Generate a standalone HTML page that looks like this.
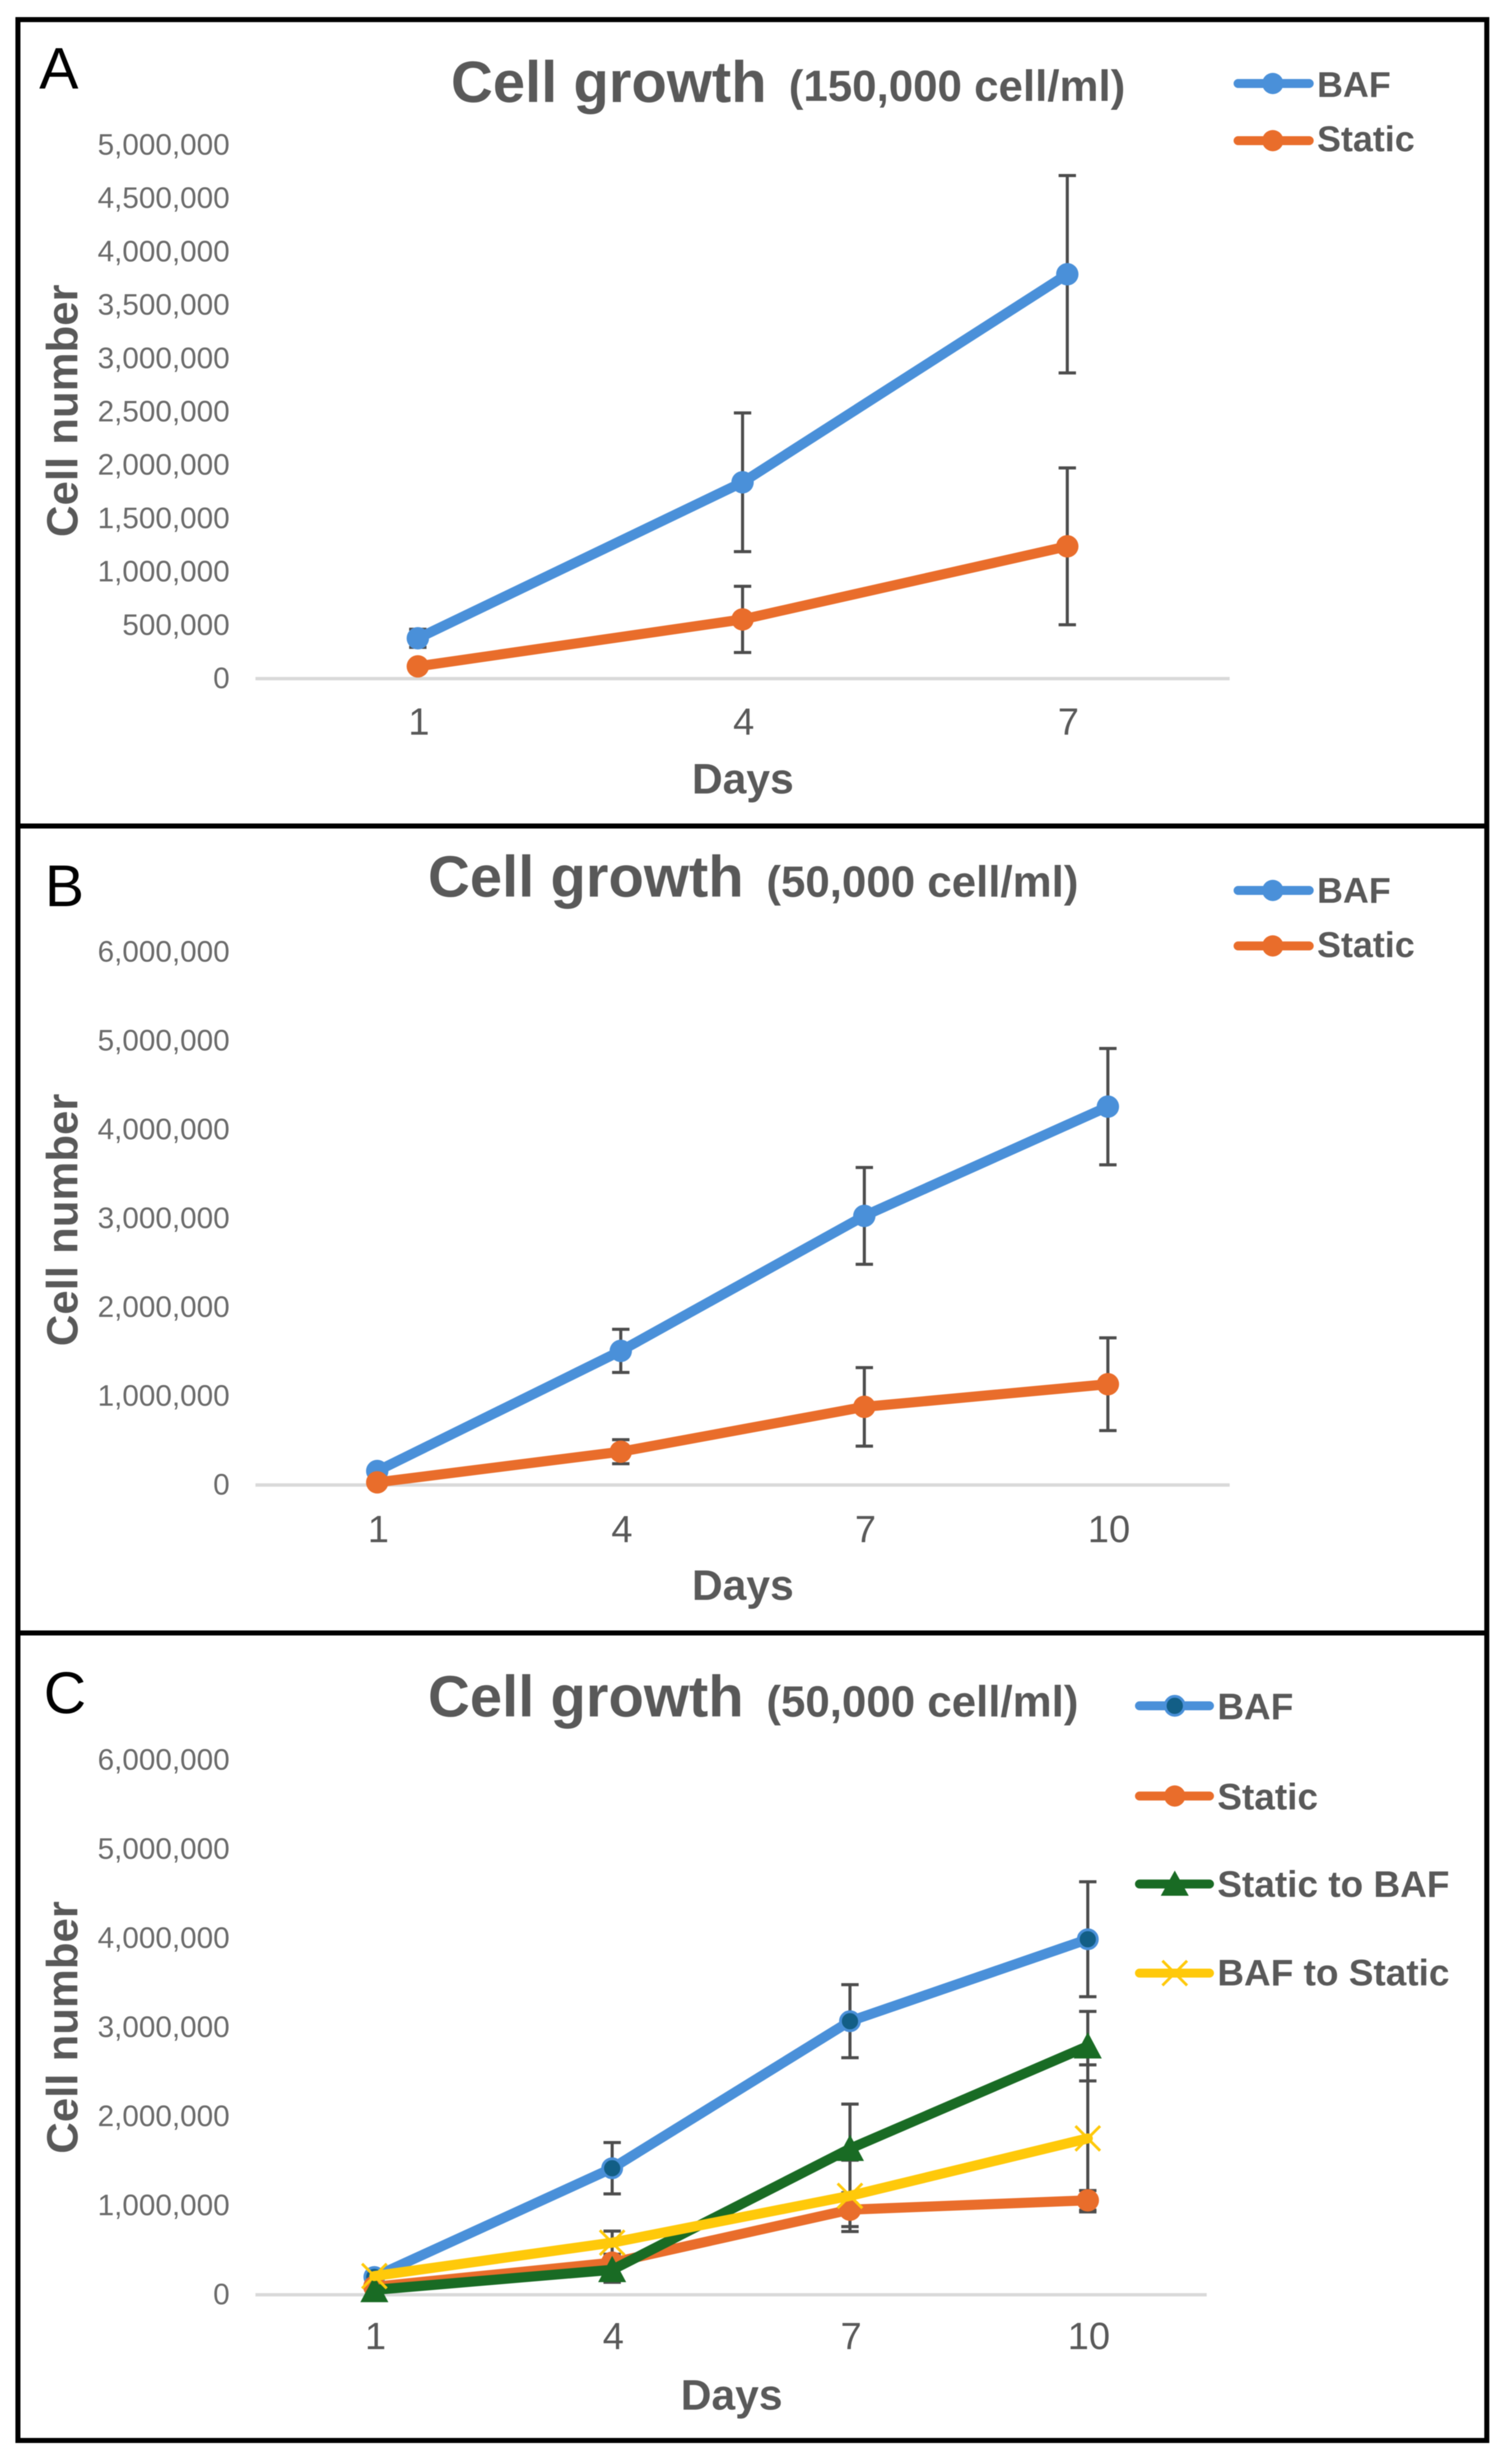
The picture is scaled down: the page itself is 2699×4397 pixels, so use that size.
<!DOCTYPE html>
<html lang="en">
<head>
<meta charset="utf-8">
<title>Cell growth charts</title>
<style>
html,body{margin:0;padding:0;background:#fff;width:2699px;height:4397px;overflow:hidden}
svg{display:block;filter:blur(0.8px)}
text{font-family:"Liberation Sans",sans-serif}
.title{font-size:103.5px;font-weight:bold;fill:#595959}
.sub{font-size:78.3px;font-weight:bold;fill:#595959}
.leg{font-size:64px;font-weight:bold;fill:#595959}
.axt{font-size:76px;font-weight:bold;fill:#595959}
.ayt{font-size:78px;font-weight:bold;fill:#595959}
.ytick{font-size:53px;fill:#6b6b6b}
.xtick{font-size:68px;fill:#595959}
.letter{font-size:105px;fill:#000}
</style>
</head>
<body>
<svg id="figure" xmlns="http://www.w3.org/2000/svg" width="2699" height="4397" viewBox="0 0 2699 4397">
  <rect x="0" y="0" width="2699" height="4397" fill="#fff"/>
  <rect x="32" y="35" width="2622" height="4320" fill="none" stroke="#000" stroke-width="9"/>
  <line x1="32" x2="2654" y1="1474" y2="1474" stroke="#000" stroke-width="9"/>
  <line x1="32" x2="2654" y1="2914" y2="2914" stroke="#000" stroke-width="9"/>

  <!-- Panel A -->
  <g>
    <text class="letter" x="70" y="158">A</text>
    <text class="title" x="805" y="182">Cell growth</text>
    <text class="sub" x="1408" y="180">(150,000 cell/ml)</text>
    <text class="ayt" text-anchor="middle" transform="translate(138 733) rotate(-90)">Cell number</text>
    <text class="axt" text-anchor="middle" x="1326" y="1416">Days</text>
    <g>
      <line x1="2210" x2="2337" y1="149" y2="149" stroke="#4a90d9" stroke-width="16" stroke-linecap="round"/>
      <circle cx="2272" cy="149" r="19" fill="#4a90d9"/>
      <text class="leg" x="2351" y="173">BAF</text>
      <line x1="2210" x2="2337" y1="251" y2="251" stroke="#e96d2b" stroke-width="16" stroke-linecap="round"/>
      <circle cx="2272" cy="251" r="19" fill="#e96d2b"/>
      <text class="leg" x="2351" y="270">Static</text>
    </g>
    <g id="plot-a"></g>
  </g>

  <!-- Panel B -->
  <g>
    <text class="letter" x="80" y="1617">B</text>
    <text class="title" x="764" y="1600">Cell growth</text>
    <text class="sub" x="1368" y="1600">(50,000 cell/ml)</text>
    <text class="ayt" text-anchor="middle" transform="translate(138 2177) rotate(-90)">Cell number</text>
    <text class="axt" text-anchor="middle" x="1326" y="2855">Days</text>
    <g>
      <line x1="2210" x2="2337" y1="1589" y2="1589" stroke="#4a90d9" stroke-width="16" stroke-linecap="round"/>
      <circle cx="2272" cy="1589" r="19" fill="#4a90d9"/>
      <text class="leg" x="2351" y="1611">BAF</text>
      <line x1="2210" x2="2337" y1="1688" y2="1688" stroke="#e96d2b" stroke-width="16" stroke-linecap="round"/>
      <circle cx="2272" cy="1688" r="19" fill="#e96d2b"/>
      <text class="leg" x="2351" y="1708">Static</text>
    </g>
    <g id="plot-b"></g>
  </g>

  <!-- Panel C -->
  <g>
    <text class="letter" x="78" y="3057">C</text>
    <text class="title" x="764" y="3063">Cell growth</text>
    <text class="sub" x="1368" y="3063">(50,000 cell/ml)</text>
    <text class="ayt" text-anchor="middle" transform="translate(138 3618) rotate(-90)">Cell number</text>
    <text class="axt" text-anchor="middle" x="1306" y="4300">Days</text>
    <g>
      <line x1="2034" x2="2159" y1="3044" y2="3044" stroke="#4a90d9" stroke-width="16" stroke-linecap="round"/>
      <circle cx="2097" cy="3044" r="17" fill="#125e86" stroke="#4a90d9" stroke-width="5"/>
      <text class="leg" style="font-size:66px" x="2173" y="3068">BAF</text>
      <line x1="2034" x2="2159" y1="3205" y2="3205" stroke="#e96d2b" stroke-width="16" stroke-linecap="round"/>
      <circle cx="2097" cy="3205" r="19" fill="#e96d2b"/>
      <text class="leg" style="font-size:66px" x="2173" y="3229">Static</text>
      <line x1="2034" x2="2159" y1="3362" y2="3362" stroke="#196b24" stroke-width="16" stroke-linecap="round"/>
      <polygon points="2097,3338 2122,3383 2072,3383" fill="#196b24"/>
      <text class="leg" style="font-size:66px" x="2173" y="3385">Static to BAF</text>
      <line x1="2034" x2="2159" y1="3521" y2="3521" stroke="#ffc90a" stroke-width="16" stroke-linecap="round"/>
      <path d="M2075 3499L2119 3543M2119 3499L2075 3543" stroke="#ffc90a" stroke-width="5" fill="none"/>
      <text class="leg" style="font-size:66px" x="2173" y="3543">BAF to Static</text>
    </g>
    <g id="plot-c"></g>
  </g>
</svg>

<script>
// ---- Panel A data ----
const daysA = ['1', '4', '7'];
const yTicksA = [0, 500000, 1000000, 1500000, 2000000, 2500000, 3000000, 3500000, 4000000, 4500000, 5000000];
const bafA = [378000, 1840000, 3790000];
const bafErrA = [85000, 650000, 925000];
const staticA = [115000, 555000, 1240000];
const staticErrA = [30000, 310000, 735000];

// ---- Panel B data ----
const daysB = ['1', '4', '7', '10'];
const yTicksB = [0, 1000000, 2000000, 3000000, 4000000, 5000000, 6000000];
const bafB = [158000, 1510000, 3030000, 4260000];
const bafErrB = [60000, 243000, 545000, 655000];
const staticB = [30000, 375000, 880000, 1135000];
const staticErrB = [20000, 135000, 442000, 522000];

// ---- Panel C data ----
const daysC = ['1', '4', '7', '10'];
const yTicksC = [0, 1000000, 2000000, 3000000, 4000000, 5000000, 6000000];
const bafC = [200000, 1420000, 3070000, 3990000];
const bafErrC = [50000, 288000, 410000, 645000];
const staticC = [90000, 360000, 955000, 1060000];
const staticErrC = [30000, 220000, 190000, 110000];
const staticToBafC = [55000, 280000, 1640000, 2790000];
const staticToBafErrC = [20000, 80000, 500000, 390000];
const bafToStaticC = [210000, 585000, 1110000, 1755000];
const bafToStaticErrC = [30000, 130000, 400000, 825000];

const SVGNS = 'http://www.w3.org/2000/svg';
const BLUE = '#4a90d9', ORANGE = '#e96d2b', GREEN = '#196b24', YELLOW = '#ffc90a', DARKTEAL = '#125e86';

function el(tag, attrs, parent) {
  const e = document.createElementNS(SVGNS, tag);
  for (const k in attrs) e.setAttribute(k, attrs[k]);
  parent.appendChild(e);
  return e;
}

function drawChart(host, frame, cats, yTicks, series) {
  const maxV = yTicks[yTicks.length - 1];
  const xPos = i => frame.left + (i + 0.5) * (frame.right - frame.left) / cats.length;
  const yPos = v => frame.y0 - v * (frame.y0 - frame.yTop) / maxV;

  // y tick labels
  yTicks.forEach(v => {
    const t = el('text', {x: 410, y: yPos(v) + 17, 'text-anchor': 'end', class: 'ytick'}, host);
    
    
    t.textContent = v.toLocaleString('en-US');
  });

  // x axis
  const axis = el('line', {x1: frame.left, x2: frame.right, y1: frame.y0, y2: frame.y0, stroke: '#d9d9d9', 'stroke-width': 6}, host);
  
  

  // x tick labels
  cats.forEach((c, i) => {
    const t = el('text', {x: xPos(i) + 2, y: frame.xTickY, 'text-anchor': 'middle', class: 'xtick'}, host);
    
    
    t.textContent = c;
  });

  // error bars
  series.forEach(s => {
    s.values.forEach((v, i) => {
      const x = xPos(i), yT = yPos(v + s.err[i]), yB = yPos(v - s.err[i]);
      const g = el('g', {stroke: '#4d4d4d', 'stroke-width': 5.5, fill: 'none'}, host);
      
      
      el('line', {x1: x, x2: x, y1: yT, y2: yB}, g);
      el('line', {x1: x - 15.5, x2: x + 15.5, y1: yT, y2: yT}, g);
      el('line', {x1: x - 15.5, x2: x + 15.5, y1: yB, y2: yB}, g);
    });
  });

  // lines and markers
  series.forEach(s => {
    const pts = s.values.map((v, i) => xPos(i) + ',' + yPos(v)).join(' ');
    const line = el('polyline', {points: pts, fill: 'none', stroke: s.color, 'stroke-width': 18, 'stroke-linejoin': 'round', 'stroke-linecap': 'round'}, host);
    
    
    s.values.forEach((v, i) => {
      const x = xPos(i), y = yPos(v);
      let m;
      if (s.marker === 'triangle') {
        m = el('polygon', {points: x + ',' + (y - 25) + ' ' + (x + 25) + ',' + (y + 22) + ' ' + (x - 25) + ',' + (y + 22), fill: s.color}, host);
      } else if (s.marker === 'x') {
        m = el('path', {d: 'M' + (x - 22) + ' ' + (y - 22) + 'L' + (x + 22) + ' ' + (y + 22) + 'M' + (x + 22) + ' ' + (y - 22) + 'L' + (x - 22) + ' ' + (y + 22), stroke: s.color, 'stroke-width': 5, fill: 'none'}, host);
      } else if (s.marker === 'dark') {
        m = el('circle', {cx: x, cy: y, r: 17, fill: DARKTEAL, stroke: s.color, 'stroke-width': 5}, host);
      } else {
        m = el('circle', {cx: x, cy: y, r: 20, fill: s.color}, host);
      }
      
      
    });
  });
}

drawChart(document.getElementById('plot-a'),
  {left: 456, right: 2195, y0: 1211, yTop: 259, xTickY: 1311},
  daysA, yTicksA,
  [{key: 'baf', values: bafA, err: bafErrA, color: BLUE, marker: 'circle'},
   {key: 'static', values: staticA, err: staticErrA, color: ORANGE, marker: 'circle'}]);

drawChart(document.getElementById('plot-b'),
  {left: 456, right: 2195, y0: 2650, yTop: 1699, xTickY: 2752},
  daysB, yTicksB,
  [{key: 'baf', values: bafB, err: bafErrB, color: BLUE, marker: 'circle'},
   {key: 'static', values: staticB, err: staticErrB, color: ORANGE, marker: 'circle'}]);

drawChart(document.getElementById('plot-c'),
  {left: 456, right: 2154, y0: 4095, yTop: 3141, xTickY: 4192},
  daysC, yTicksC,
  [{key: 'baf', values: bafC, err: bafErrC, color: BLUE, marker: 'dark'},
   {key: 'static', values: staticC, err: staticErrC, color: ORANGE, marker: 'circle'},
   {key: 'static-to-baf', values: staticToBafC, err: staticToBafErrC, color: GREEN, marker: 'triangle'},
   {key: 'baf-to-static', values: bafToStaticC, err: bafToStaticErrC, color: YELLOW, marker: 'x'}]);
</script>
</body>
</html>
